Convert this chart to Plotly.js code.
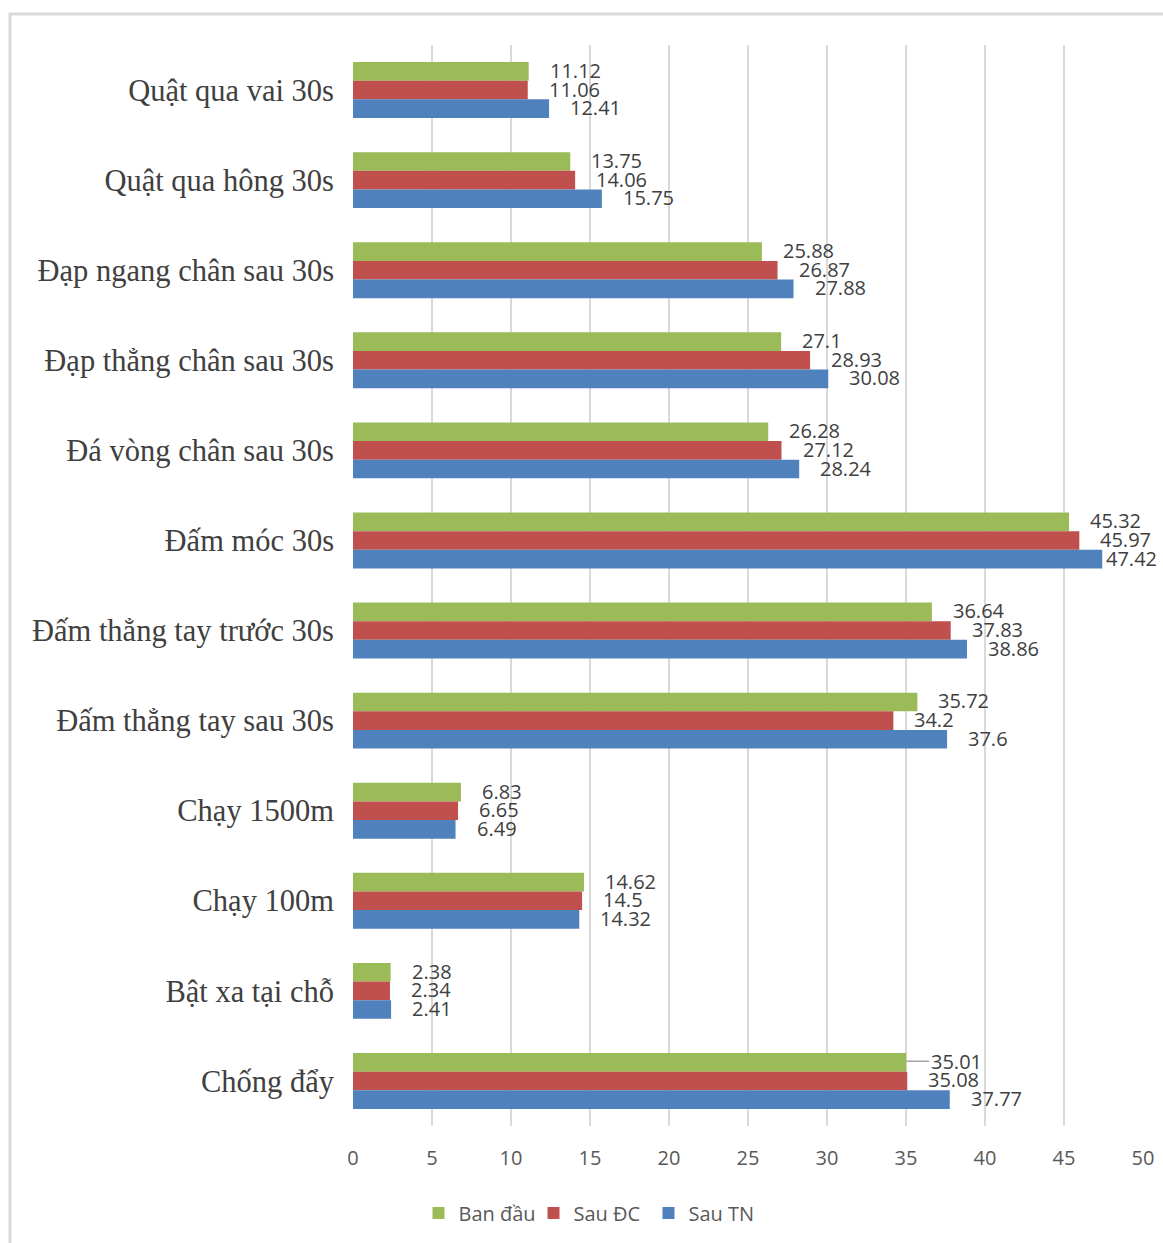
<!DOCTYPE html>
<html>
<head>
<meta charset="utf-8">
<script src="https://cdn.plot.ly/plotly-3.0.1.min.js"></script>
<style>
  html, body { margin: 0; padding: 0; background: #ffffff; }
  #chart { width: 1163px; height: 1243px; }
</style>
</head>
<body>
<div id="chart"></div>
<script>
// Test items, listed top to bottom
const categories = [
  "Quật qua vai 30s",
  "Quật qua hông 30s",
  "Đạp ngang chân sau 30s",
  "Đạp thẳng chân sau 30s",
  "Đá vòng chân sau 30s",
  "Đấm móc 30s",
  "Đấm thẳng tay trước 30s",
  "Đấm thẳng tay sau 30s",
  "Chạy 1500m",
  "Chạy 100m",
  "Bật xa tại chỗ",
  "Chống đẩy"
];

const seriesNames = ["Ban đầu", "Sau ĐC", "Sau TN"];
const banDau = [11.12, 13.75, 25.88, 27.1, 26.28, 45.32, 36.64, 35.72, 6.83, 14.62, 2.38, 35.01];
const sauDC  = [11.06, 14.06, 26.87, 28.93, 27.12, 45.97, 37.83, 34.2, 6.65, 14.5, 2.34, 35.08];
const sauTN  = [12.41, 15.75, 27.88, 30.08, 28.24, 47.42, 38.86, 37.6, 6.49, 14.32, 2.41, 37.77];
const xTicks = [0, 5, 10, 15, 20, 25, 30, 35, 40, 45, 50];

const seriesValues = [banDau, sauDC, sauTN];
const colors = ["#9BBB59", "#C0504D", "#4F81BD"];

const W = 1163, H = 1243;
const margin = { l: 353, r: 20, t: 45, b: 116 };
const plotH = H - margin.t - margin.b;
const slot = plotH / categories.length;
const bargap = 0.379;
const barPx = slot * (1 - bargap) / seriesValues.length;

const traces = seriesValues.map((vals, i) => ({
  type: "bar",
  orientation: "h",
  name: seriesNames[i],
  x: vals,
  y: categories,
  marker: { color: colors[i], line: { width: 0 } },
  hoverinfo: "x+name"
}));

// value labels beside each bar end
const labelShift = 19;
const labelNudge = { "2,5": 2 };        // keeps the longest label inside the frame
const labelLeader = { "0,11": 50 };     // label pulled out with a leader line
const annotations = [];
seriesValues.forEach((vals, s) => {
  const yshift = (1 - s) * barPx + 1;
  vals.forEach((v, c) => {
    const key = s + "," + c;
    const base = {
      x: v, y: categories[c], xref: "x", yref: "y",
      text: String(v),
      font: { family: "Open Sans, sans-serif", size: 20, color: "#404040" },
      yshift: yshift
    };
    if (labelLeader[key] !== undefined) {
      annotations.push(Object.assign(base, {
        showarrow: true, arrowhead: 0, arrowwidth: 1.5, arrowcolor: "#a6a6a6",
        ax: labelLeader[key], ay: 0, standoff: 0, xanchor: "center"
      }));
    } else {
      annotations.push(Object.assign(base, {
        showarrow: false, xanchor: "left",
        xshift: labelNudge[key] !== undefined ? labelNudge[key] : labelShift
      }));
    }
  });
});

const plotW = W - margin.l - margin.r;
const px2paperX = p => (p - margin.l) / plotW;
const px2paperY = p => (H - margin.b - p) / plotH;

const layout = {
  width: W,
  height: H,
  margin: margin,
  paper_bgcolor: "#ffffff",
  plot_bgcolor: "#ffffff",
  barmode: "group",
  bargap: bargap,
  bargroupgap: 0,
  showlegend: true,
  legend: {
    orientation: "h",
    traceorder: "normal",
    x: px2paperX(591), xanchor: "center",
    y: px2paperY(1213), yanchor: "middle",
    font: { family: "Open Sans, sans-serif", size: 20, color: "#595959" },
    itemwidth: 30,
    entrywidth: 70
  },
  xaxis: {
    range: [0, 50],
    tickvals: xTicks,
    ticktext: xTicks.map(String),
    showgrid: true,
    gridcolor: "#d9d9d9",
    gridwidth: 2,
    zeroline: false,
    showline: false,
    ticks: "",
    ticklabelstandoff: 18,
    tickfont: { family: "Open Sans, sans-serif", size: 20, color: "#595959" },
    fixedrange: true
  },
  yaxis: {
    type: "category",
    autorange: "reversed",
    showgrid: false,
    zeroline: false,
    showline: false,
    ticks: "",
    ticklabelstandoff: 18,
    tickfont: { family: "Liberation Serif, Times New Roman, serif", size: 30.5, color: "#404040" },
    fixedrange: true
  },
  annotations: annotations,
  shapes: [
    {
      type: "rect", xref: "paper", yref: "paper", layer: "below",
      x0: px2paperX(10), x1: px2paperX(1180),
      y0: px2paperY(1260), y1: px2paperY(14),
      line: { color: "#d9d9d9", width: 3 },
      fillcolor: "rgba(0,0,0,0)"
    }
  ]
};

Plotly.newPlot("chart", traces, layout, { displayModeBar: false, staticPlot: true });
</script>
</body>
</html>
